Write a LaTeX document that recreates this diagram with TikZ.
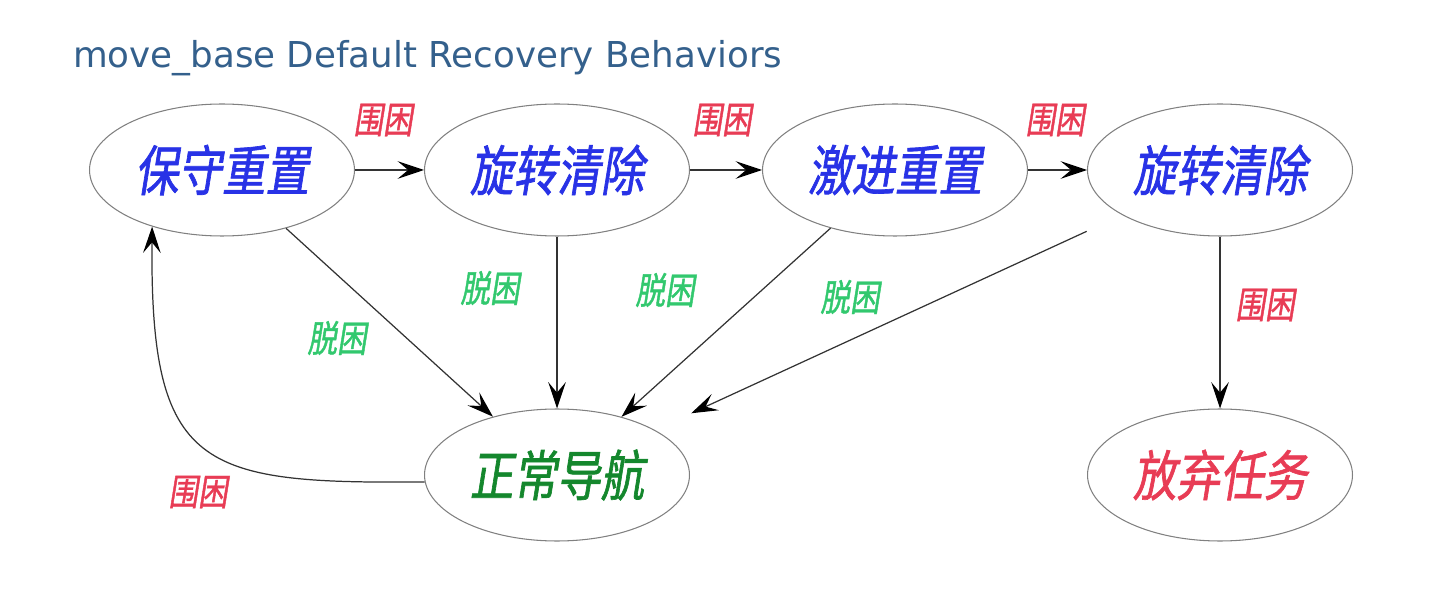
\documentclass[tikz,border=0pt]{standalone}
\usepackage{fontspec}
\usetikzlibrary{positioning, arrows.meta, shapes.geometric}
\setmainfont{DejaVu Sans}
\newfontfamily\cjk[FakeSlant=0.16,FakeStretch=0.8,FakeBold=1.2]{Noto Sans CJK SC}
\definecolor{titleblue}{RGB}{52,96,140}
\definecolor{behblue}{RGB}{40,50,230}
\definecolor{navgreen}{RGB}{20,135,45}
\definecolor{stuckred}{RGB}{232,60,85}
\definecolor{freegreen}{RGB}{50,200,110}

\begin{document}
\begin{tikzpicture}[x=0.02cm, y=-0.02cm,
	beh/.style={ellipse, draw=gray, line width=0.6pt, minimum width=5.3cm,
		minimum height=2.64cm, inner sep=0pt, font=\cjk\fontsize{31}{31}\selectfont},
	stuck/.style={font=\cjk\fontsize{21}{21}\selectfont, text=stuckred},
	free/.style={font=\cjk\fontsize{21}{21}\selectfont, text=freegreen},
	link/.style={-{Stealth[length=15pt, width=10pt, inset=6pt, black]}, line width=0.7pt, draw=black!80}]
	\useasboundingbox (0,0) rectangle (1433,594);

	\node (title) [anchor=base west, text=titleblue, font=\fontsize{20.3}{20.3}\selectfont]
		at (67,68) {move\_base Default Recovery Behaviors};

	% recovery behaviors
	\node (n1) [beh, text=behblue] at (222,170) {保守重置};
	\node (n2) [beh, text=behblue] at (557,170) {旋转清除};
	\node (n3) [beh, text=behblue] at (895,170) {激进重置};
	\node (n4) [beh, text=behblue] at (1220,170) {旋转清除};
	\node (n5) [beh, text=navgreen] at (557,475) {正常导航};
	\node (n6) [beh, text=stuckred] at (1220,475) {放弃任务};

	\draw [link] (n1) -- (n2);
	\draw [link] (n2) -- (n3);
	\draw [link] (n3) -- (n4);
	\draw [link] (n4) -- (n6);

	\draw [link] (n1) -- (n5);
	\draw [link] (n2) -- (n5);
	\draw [link] (n3) -- (n5);
	\draw [link, shorten <=0.78cm, shorten >=0.8cm] (n4) -- (n5);

	\draw [link] (n5.183) .. controls (200,484) and (150,470) .. (n1.219);

	% labels
	\node (s1) [stuck] at (383,120) {围困};
	\node (s2) [stuck] at (722,120) {围困};
	\node (s3) [stuck] at (1055,120) {围困};
	\node (s4) [stuck] at (1265,305) {围困};
	\node (s5) [stuck] at (198,492) {围困};

	\node (f1) [free] at (337,338) {脱困};
	\node (f2) [free] at (490,288) {脱困};
	\node (f3) [free] at (665,290) {脱困};
	\node (f4) [free] at (850,297) {脱困};
\end{tikzpicture}
\end{document}
